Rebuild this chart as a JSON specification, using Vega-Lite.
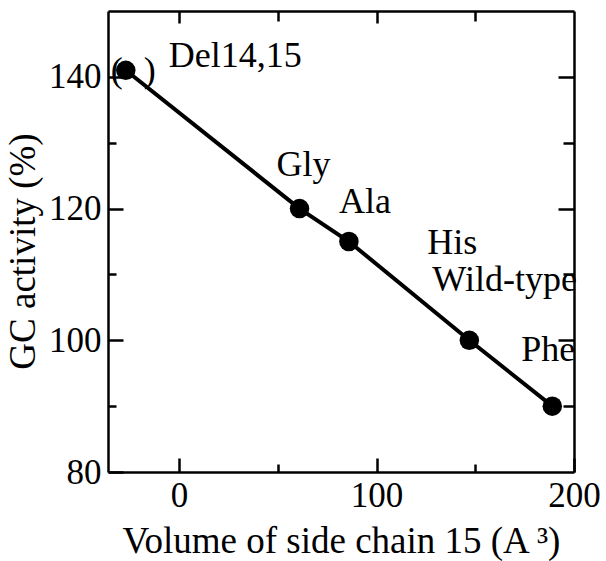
{
  "$schema": "https://vega.github.io/schema/vega-lite/v6.json",
  "width": 466,
  "height": 461,
  "autosize": {"type": "none"},
  "padding": {"left": 108, "top": 11, "right": 32, "bottom": 89},
  "background": "white",
  "config": {
    "view": {"stroke": null},
    "font": "Liberation Serif",
    "axis": {
      "grid": false,
      "domainColor": "black",
      "domainWidth": 2.5,
      "tickColor": "black",
      "tickWidth": 2.5,
      "labelFont": "Liberation Serif",
      "labelFontSize": 35,
      "labelColor": "black",
      "labelFlush": false,
      "labelOverlap": false,
      "titleFont": "Liberation Serif",
      "titleFontSize": 37,
      "titleFontWeight": "normal",
      "titleColor": "black"
    }
  },
  "data": {
    "values": [
      {"mutant": "Del14,15", "volume": -27, "activity": 141},
      {"mutant": "Gly", "volume": 61, "activity": 120},
      {"mutant": "Ala", "volume": 86, "activity": 115},
      {"mutant": "His", "alt": "Wild-type", "volume": 147, "activity": 100},
      {"mutant": "Phe", "volume": 189, "activity": 90}
    ]
  },
  "layer": [
    {
      "mark": {"type": "line", "color": "black", "strokeWidth": 4},
      "encoding": {
        "x": {
          "field": "volume", "type": "quantitative",
          "scale": {"domain": [-36, 200], "nice": false, "zero": false},
          "axis": {
            "orient": "bottom",
            "values": [0, 50, 100, 150, 200],
            "labelExpr": "datum.value % 100 === 0 ? datum.label : ''",
            "tickSize": {"condition": {"test": "datum.value % 100 === 0", "value": -14}, "value": -8},
            "labelPadding": 20,
            "title": "Volume of side chain 15 (A ³)",
            "titlePadding": 4
          }
        },
        "y": {
          "field": "activity", "type": "quantitative",
          "scale": {"domain": [80, 150], "nice": false, "zero": false},
          "axis": {
            "orient": "left",
            "values": [80, 90, 100, 110, 120, 130, 140],
            "labelExpr": "datum.value % 20 === 0 ? datum.label : ''",
            "tickSize": {"condition": {"test": "datum.value % 20 === 0", "value": -15}, "value": -8},
            "labelPadding": 22,
            "title": "GC activity (%)",
            "titlePadding": 6,
            "titleY": 240
          }
        }
      }
    },
    {
      "mark": {"type": "circle", "color": "black", "opacity": 1, "size": 380},
      "encoding": {
        "x": {
          "field": "volume", "type": "quantitative",
          "axis": {
            "orient": "top",
            "values": [0, 50, 100, 150],
            "labels": false,
            "title": null,
            "tickSize": {"condition": {"test": "datum.value % 100 === 0", "value": -12}, "value": -10}
          }
        },
        "y": {
          "field": "activity", "type": "quantitative",
          "axis": {
            "orient": "right",
            "values": [90, 100, 110, 120, 130, 140],
            "labels": false,
            "title": null,
            "tickSize": {"condition": {"test": "datum.value % 20 === 0", "value": -16}, "value": -11}
          }
        }
      }
    },
    {
      "transform": [{"filter": "datum.mutant === 'Del14,15'"}],
      "mark": {"type": "text", "align": "center", "baseline": "middle", "fontSize": 36, "dx": -9, "dy": 1, "color": "black"},
      "encoding": {
        "x": {"field": "volume", "type": "quantitative", "axis": null},
        "y": {"field": "activity", "type": "quantitative", "axis": null},
        "text": {"value": "("}
      }
    },
    {
      "transform": [{"filter": "datum.mutant === 'Del14,15'"}],
      "mark": {"type": "text", "align": "center", "baseline": "middle", "fontSize": 36, "dx": 24, "dy": 1, "color": "black"},
      "encoding": {
        "x": {"field": "volume", "type": "quantitative", "axis": null},
        "y": {"field": "activity", "type": "quantitative", "axis": null},
        "text": {"value": ")"}
      }
    },
    {
      "transform": [{"filter": "datum.mutant === 'Del14,15'"}],
      "mark": {"type": "text", "align": "left", "baseline": "alphabetic", "fontSize": 36, "dx": 43, "dy": -3, "color": "black"},
      "encoding": {
        "x": {"field": "volume", "type": "quantitative", "axis": null},
        "y": {"field": "activity", "type": "quantitative", "axis": null},
        "text": {"field": "mutant"}
      }
    },
    {
      "transform": [{"filter": "datum.mutant === 'Gly'"}],
      "mark": {"type": "text", "align": "left", "baseline": "alphabetic", "fontSize": 36, "dx": -23, "dy": -33, "color": "black"},
      "encoding": {
        "x": {"field": "volume", "type": "quantitative", "axis": null},
        "y": {"field": "activity", "type": "quantitative", "axis": null},
        "text": {"field": "mutant"}
      }
    },
    {
      "transform": [{"filter": "datum.mutant === 'Ala'"}],
      "mark": {"type": "text", "align": "left", "baseline": "alphabetic", "fontSize": 36, "dx": -10, "dy": -29, "color": "black"},
      "encoding": {
        "x": {"field": "volume", "type": "quantitative", "axis": null},
        "y": {"field": "activity", "type": "quantitative", "axis": null},
        "text": {"field": "mutant"}
      }
    },
    {
      "transform": [{"filter": "datum.mutant === 'His'"}],
      "mark": {"type": "text", "align": "left", "baseline": "alphabetic", "fontSize": 36, "dx": -42, "dy": -86, "color": "black"},
      "encoding": {
        "x": {"field": "volume", "type": "quantitative", "axis": null},
        "y": {"field": "activity", "type": "quantitative", "axis": null},
        "text": {"field": "mutant"}
      }
    },
    {
      "transform": [{"filter": "datum.mutant === 'His'"}],
      "mark": {"type": "text", "align": "left", "baseline": "alphabetic", "fontSize": 36, "dx": -37, "dy": -49, "color": "black"},
      "encoding": {
        "x": {"field": "volume", "type": "quantitative", "axis": null},
        "y": {"field": "activity", "type": "quantitative", "axis": null},
        "text": {"field": "alt"}
      }
    },
    {
      "transform": [{"filter": "datum.mutant === 'Phe'"}],
      "mark": {"type": "text", "align": "left", "baseline": "alphabetic", "fontSize": 36, "dx": -31, "dy": -45, "color": "black"},
      "encoding": {
        "x": {"field": "volume", "type": "quantitative", "axis": null},
        "y": {"field": "activity", "type": "quantitative", "axis": null},
        "text": {"field": "mutant"}
      }
    }
  ],
  "resolve": {"axis": {"x": "independent", "y": "independent"}}
}
